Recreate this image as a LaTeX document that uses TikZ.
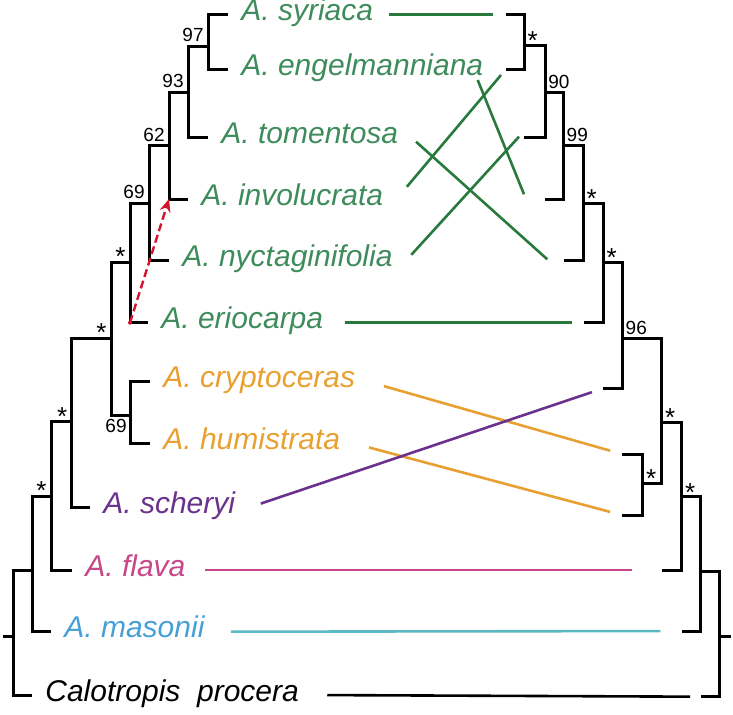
\documentclass[tikz,border=0pt]{standalone}
\usepackage{fontspec}
\setmainfont{Liberation Sans}
\usetikzlibrary{arrows.meta}
\definecolor{txtgreen}{RGB}{62,140,92}
\definecolor{lngreen}{RGB}{40,122,60}
\definecolor{txtorange}{RGB}{232,160,48}
\definecolor{txtpurple}{RGB}{106,50,140}
\definecolor{txtpink}{RGB}{200,70,138}
\definecolor{txtblue}{RGB}{70,160,215}
\definecolor{lncyan}{RGB}{90,185,195}
\definecolor{hgtred}{RGB}{210,20,45}
\begin{document}
\begin{tikzpicture}[x=0.5pt, y=-0.5pt,
  taxon/.style={anchor=west, inner xsep=6.5pt, inner ysep=0pt, text height=0.72em, text depth=0.12em, font=\fontsize{15}{16}\selectfont\itshape},
  branch/.style={line width=1.5pt, line join=miter},
  link/.style={line width=1.3pt, shorten <=2pt, shorten >=6pt},
  lsup/.style={anchor=south east, inner sep=2pt, font=\fontsize{9.5}{10}\selectfont},
  rsup/.style={anchor=south west, inner sep=1.5pt, font=\fontsize{9.5}{10}\selectfont},
  lstar/.style={lsup, font=\fontsize{13}{13}\selectfont, yshift=-4pt},
  rstar/.style={rsup, font=\fontsize{13}{13}\selectfont, yshift=-4pt}]
\useasboundingbox (0,0) rectangle (733,714);

\node (syr) [taxon, txtgreen] at (228,14.7) {A. syriaca};
\node (eng) [taxon, txtgreen] at (228,69) {A. engelmanniana};
\node (tom) [taxon, txtgreen] at (208,137.7) {A. tomentosa};
\node (inv) [taxon, txtgreen] at (188,199) {A. involucrata};
\node (nyc) [taxon, txtgreen] at (169,260.7) {A. nyctaginifolia};
\node (eri) [taxon, txtgreen] at (148,322.7) {A. eriocarpa};
\node (cry) [taxon, txtorange] at (150,381.7) {A. cryptoceras};
\node (hum) [taxon, txtorange] at (150,443.3) {A. humistrata};
\node (sch) [taxon, txtpurple] at (90,507.7) {A. scheryi};
\node (fla) [taxon, txtpink] at (72,570) {A. flava};
\node (mas) [taxon, txtblue] at (51,631.7) {A. masonii};
\node (cal) [taxon] at (32,695) {Calotropis\ \ procera};

\coordinate (L97) at (208,46);
\coordinate (L93) at (188,92.3);
\coordinate (L62) at (169,145.7);
\coordinate (L69) at (149,203.3);
\coordinate (La) at (130,262.3);
\coordinate (Lb) at (111,338.3);
\coordinate (Lc69) at (130,415.7);
\coordinate (Lc) at (71.7,421.7);
\coordinate (Ld) at (51,496);
\coordinate (Le) at (32,570.7);
\coordinate (Lroot) at (13,636);
\coordinate (Lstub) at (3,636);

\coordinate (Rsyr) at (506,14.7);
\coordinate (Rinv) at (506,69);
\coordinate (Rnyc) at (524.3,137.7);
\coordinate (Reng) at (545,199);
\coordinate (Rtom) at (564,260.7);
\coordinate (Reri) at (584,322.7);
\coordinate (Rsch) at (603.3,388.3);
\coordinate (Rcry) at (621.7,454);
\coordinate (Rhum) at (621.7,515);
\coordinate (Rfla) at (661.7,570);
\coordinate (Rmas) at (682.3,631);
\coordinate (Rcal) at (701,696.7);

\coordinate (R1) at (524.3,45);
\coordinate (R90) at (545,92.3);
\coordinate (R99) at (563.3,145);
\coordinate (R2) at (583.3,203.3);
\coordinate (R3) at (603.3,262.3);
\coordinate (R96) at (622.3,338.3);
\coordinate (R4) at (642.7,483.3);
\coordinate (R5) at (661.7,422.3);
\coordinate (R6) at (681.7,496.7);
\coordinate (R7) at (700.7,571);
\coordinate (Rroot) at (719,636.7);
\coordinate (Rstub) at (730.7,636.7);

\coordinate (Seng) at (477.7,80);
\coordinate (Teng) at (524,194.3);
\coordinate (Ttom) at (547.3,259.3);
\coordinate (Tinv) at (501,75);
\coordinate (Tnyc) at (519,136.7);

\draw [branch] (syr.west) -| (L97) |- (eng.west);
\draw [branch] (L97) -| (L93) |- (tom.west);
\draw [branch] (L93) -| (L62) |- (inv.west);
\draw [branch] (L62) -| (L69) |- (nyc.west);
\draw [branch] (L69) -| (La) |- (eri.west);
\draw [branch] (cry.west) -| (Lc69) |- (hum.west);
\draw [branch] (La) -| (Lb) |- (Lc69);
\draw [branch] (Lb) -| (Lc) |- (sch.west);
\draw [branch] (Lc) -| (Ld) |- (fla.west);
\draw [branch] (Ld) -| (Le) |- (mas.west);
\draw [branch] (Le) -| (Lroot) |- (cal.west);
\draw [branch] (Lroot) -- (Lstub);

\draw [branch] (Rsyr) -| (R1) |- (Rinv);
\draw [branch] (R1) -| (R90) |- (Rnyc);
\draw [branch] (R90) -| (R99) |- (Reng);
\draw [branch] (R99) -| (R2) |- (Rtom);
\draw [branch] (R2) -| (R3) |- (Reri);
\draw [branch] (R3) -| (R96) |- (Rsch);
\draw [branch] (Rcry) -| (R4) |- (Rhum);
\draw [branch] (R96) -| (R5) |- (R4);
\draw [branch] (R5) -| (R6) |- (Rfla);
\draw [branch] (R6) -| (R7) |- (Rmas);
\draw [branch] (R7) -| (Rroot) |- (Rcal);
\draw [branch] (Rroot) -- (Rstub);

\node (s97) [lsup] at (L97) {97};
\node (s93) [lsup] at (L93) {93};
\node (s62) [lsup] at (L62) {62};
\node (s69) [lsup] at (L69) {69};
\node (sa) [lstar] at (La) {*};
\node (sb) [lstar] at (Lb) {*};
\node (sc69) [anchor=north east, inner sep=1.5pt, font=\fontsize{9.5}{10}\selectfont] at (Lc69) {69};
\node (sc) [lstar] at (Lc) {*};
\node (sd) [lstar] at (Ld) {*};

\node (r1) [rstar] at (R1) {*};
\node (r90) [rsup] at (R90) {90};
\node (r99) [rsup] at (R99) {99};
\node (r2) [rstar] at (R2) {*};
\node (r3) [rstar] at (R3) {*};
\node (r96) [rsup] at (R96) {96};
\node (r4) [rstar] at (R4) {*};
\node (r5) [rstar] at (R5) {*};
\node (r6) [rstar] at (R6) {*};

\draw [link, lngreen, shorten <=1pt, shorten >=6.5pt] (syr.east) -- (Rsyr);
\draw [link, lngreen, shorten <=0pt, shorten >=0pt] (Seng) -- (Teng);
\draw [link, lngreen, shorten <=3pt, shorten >=0pt] (tom.east) -- (Ttom);
\draw [link, lngreen, shorten <=8pt, shorten >=0pt] (inv.east) -- (Tinv);
\draw [link, lngreen, shorten <=4pt, shorten >=0pt] (nyc.east) -- (Tnyc);
\draw [link, lngreen, shorten <=4pt] (eri.east) -- (Reri);
\draw [link, txtorange, shorten <=8pt] (cry.east) -- (Rcry);
\draw [link, txtorange, shorten <=8pt] (hum.east) -- (Rhum);
\draw [link, txtpurple, shorten <=6.5pt] (sch.east) -- (Rsch);
\draw [link, txtpink, shorten <=3pt, shorten >=15pt] (fla.east) -- (Rfla);
\draw [link, lncyan, shorten <=6.5pt, shorten >=11pt] (mas.east) -- (Rmas);
\draw [link, black, shorten <=7.5pt, shorten >=5.5pt] (cal.east) -- (Rcal);

\fill [hgtred] (La |- eri.west) circle (1pt);
\draw [hgtred, line width=1.2pt, dash pattern=on 4pt off 2pt, -{Stealth[length=6.5pt, width=5.5pt]}] (La |- eri.west) -- (L62 |- inv.west);
\end{tikzpicture}
\end{document}
